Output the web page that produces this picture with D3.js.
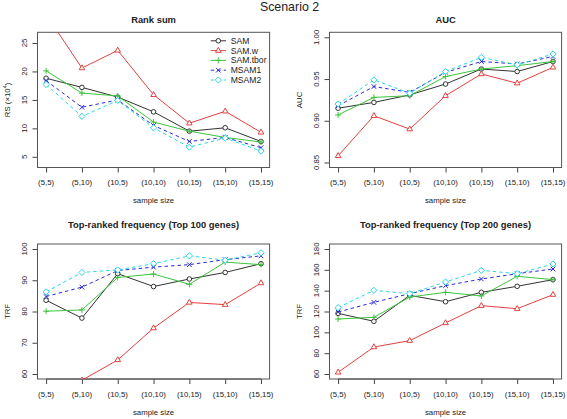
<!DOCTYPE html>
<html><head><meta charset="utf-8">
<script src="https://cdn.jsdelivr.net/npm/d3@7"></script>
<style>body{margin:0;background:#fff}svg{display:block}text{font-family:"Liberation Sans",Arial,sans-serif;fill:#222}</style>
</head><body>
<script>
const categories = ["(5,5)","(5,10)","(10,5)","(10,10)","(10,15)","(15,10)","(15,15)"];
const seriesNames = ["SAM","SAM.w","SAM.tbor","MSAM1","MSAM2"];

const rsSAM   = [18.8, 17.2, 15.5, 12.9, 9.5, 10.1, 7.7];
const rsSAMw  = [30.0, 20.6, 23.7, 15.9, 10.9, 13.0, 9.3];
const rsTbor  = [20.1, 16.2, 15.7, 11.1, 9.5, 8.4, 7.6];
const rsMSAM1 = [18.4, 13.7, 15.0, 10.5, 7.7, 8.4, 6.6];
const rsMSAM2 = [17.7, 12.1, 14.9, 10.1, 6.7, 8.3, 6.0];

const aucSAM   = [0.915, 0.922, 0.931, 0.944, 0.962, 0.959, 0.971];
const aucSAMw  = [0.858, 0.906, 0.890, 0.930, 0.956, 0.945, 0.964];
const aucTbor  = [0.907, 0.928, 0.930, 0.953, 0.962, 0.966, 0.971];
const aucMSAM1 = [0.918, 0.941, 0.934, 0.958, 0.971, 0.968, 0.977];
const aucMSAM2 = [0.920, 0.949, 0.933, 0.959, 0.976, 0.967, 0.980];

const t100SAM   = [83.6, 77.9, 92.1, 88.0, 90.4, 92.5, 95.3];
const t100SAMw  = [50.0, 58.0, 64.5, 74.7, 82.9, 82.2, 89.1];
const t100Tbor  = [80.1, 80.5, 90.9, 92.0, 88.7, 95.8, 95.0];
const t100MSAM1 = [84.8, 87.8, 93.1, 94.2, 95.0, 96.6, 97.8];
const t100MSAM2 = [86.3, 92.5, 93.3, 95.3, 97.8, 96.4, 98.8];

const t200SAM   = [118.2, 110.6, 135.5, 129.4, 138.4, 144.2, 150.6];
const t200SAMw  = [61.6, 85.9, 92.0, 109.0, 125.6, 122.7, 136.2];
const t200Tbor  = [112.8, 114.4, 133.9, 138.4, 134.9, 153.8, 150.6];
const t200MSAM1 = [119.5, 128.8, 137.1, 144.8, 151.2, 156.3, 160.8];
const t200MSAM2 = [123.7, 140.3, 137.1, 148.3, 159.5, 156.3, 165.6];

const rsTicks = [5, 10, 15, 20, 25];
const aucTicks = [0.85, 0.90, 0.95, 1.00];
const t100Ticks = [60, 70, 80, 90, 100];
const t200Ticks = [60, 80, 100, 120, 140, 160, 180];

const colors = ["#333333", "#e3403f", "#3cc43c", "#2a2ad8", "#2ad6e0"];
const dashes = [null, null, null, "3.5,3", "3.5,3"];
const shapes = ["circle", "triangle", "plus", "cross", "diamond"];

const W = 567, H = 419;
const svg = d3.select("body").append("svg").attr("width", W).attr("height", H);

svg.append("text").attr("x", 289.5).attr("y", 10.5).attr("text-anchor", "middle")
  .style("font-size", "12.4px").text("Scenario 2");

function symbolPath(shape) {
  switch (shape) {
    case "circle": return "M2.3,0A2.3,2.3 0 1,1 -2.3,0A2.3,2.3 0 1,1 2.3,0Z";
    case "triangle": return "M0,-3.2L2.8,1.7L-2.8,1.7Z";
    case "plus": return "M-3,0L3,0M0,-3L0,3";
    case "cross": return "M-2.3,-2.3L2.3,2.3M-2.3,2.3L2.3,-2.3";
    case "diamond": return "M0,-3.1L3.1,0L0,3.1L-3.1,0Z";
  }
}

const panels = [
  {title: "Rank sum", box: [37.5, 269.6, 32.3, 167.5], dom: [3.12, 26.88], ticks: rsTicks, fmt: d => d,
   ylab: "RS", data: [rsSAM, rsSAMw, rsTbor, rsMSAM1, rsMSAM2], titleY: 22.5, tickY: 185, xlabY: 203, legend: true},
  {title: "AUC", box: [329.5, 561.6, 32.3, 167.5], dom: [0.844, 1.006], ticks: aucTicks, fmt: d3.format(".2f"),
   ylab: "AUC", data: [aucSAM, aucSAMw, aucTbor, aucMSAM1, aucMSAM2], titleY: 22.5, tickY: 185, xlabY: 203},
  {title: "Top-ranked frequency (Top 100 genes)", box: [37.5, 269.6, 244, 379], dom: [58.4, 101.6], ticks: t100Ticks, fmt: d => d,
   ylab: "TRF", data: [t100SAM, t100SAMw, t100Tbor, t100MSAM1, t100MSAM2], titleY: 227.5, tickY: 396.5, xlabY: 415},
  {title: "Top-ranked frequency (Top 200 genes)", box: [329.5, 561.6, 244, 379], dom: [55.2, 184.8], ticks: t200Ticks, fmt: d => d,
   ylab: "TRF", data: [t200SAM, t200SAMw, t200Tbor, t200MSAM1, t200MSAM2], titleY: 227.5, tickY: 396.5, xlabY: 415}
];

panels.forEach((p, pi) => {
  const [x0, x1, y0, y1] = p.box;
  const x = d3.scaleLinear().domain([0.76, 7.24]).range([x0, x1]);
  const y = d3.scaleLinear().domain(p.dom).range([y1, y0]);
  const g = svg.append("g");
  const cx = (x0 + x1) / 2, cy = (y0 + y1) / 2;

  g.append("text").attr("x", cx).attr("y", p.titleY).attr("text-anchor", "middle")
    .style("font-size", "9.4px").style("font-weight", "bold").text(p.title);

  // x axis
  const xa = g.append("g").attr("transform", `translate(0,${y1})`)
    .call(d3.axisBottom(x).tickValues(d3.range(1, 8)).tickFormat(() => "").tickSize(5).tickSizeOuter(0));
  xa.select(".domain").attr("d", `M${x(1)},0H${x(7)}`).attr("stroke", "#444");
  xa.selectAll(".tick line").attr("stroke", "#444");
  categories.forEach((c, i) => {
    g.append("text").attr("x", x(i + 1)).attr("y", p.tickY).attr("text-anchor", "middle")
      .style("font-size", "7.8px").text(c);
  });
  g.append("text").attr("x", cx).attr("y", p.xlabY).attr("text-anchor", "middle")
    .style("font-size", "7.8px").text("sample size");

  // y axis
  const ya = g.append("g").attr("transform", `translate(${x0},0)`)
    .call(d3.axisLeft(y).tickValues(p.ticks).tickFormat(() => "").tickSize(5).tickSizeOuter(0));
  ya.select(".domain").attr("d", `M0,${y(p.ticks[0])}V${y(p.ticks[p.ticks.length - 1])}`).attr("stroke", "#444");
  ya.selectAll(".tick line").attr("stroke", "#444");
  p.ticks.forEach(t => {
    g.append("text").attr("transform", `translate(${x0 - 10.5},${y(t)}) rotate(-90)`)
      .attr("text-anchor", "middle").style("font-size", "7.8px").text(p.fmt(t));
  });
  const yl = g.append("text").attr("transform", `translate(${x0 - 28},${cy}) rotate(-90)`)
    .attr("text-anchor", "middle").style("font-size", "7.8px").text(p.ylab);
  if (pi === 0) {
    yl.append("tspan").text(" (\u00d710");
    yl.append("tspan").attr("dy", "-3").style("font-size", "5.5px").text("4");
    yl.append("tspan").attr("dy", "3").text(")");
  }

  // box
  g.append("rect").attr("x", x0).attr("y", y0).attr("width", x1 - x0).attr("height", y1 - y0)
    .attr("fill", "none").attr("stroke", "#555").attr("stroke-width", 1);

  // clip
  const cid = "clip" + pi;
  svg.append("clipPath").attr("id", cid).append("rect")
    .attr("x", x0).attr("y", y0).attr("width", x1 - x0).attr("height", y1 - y0);
  const pg = g.append("g").attr("clip-path", `url(#${cid})`);

  const line = d3.line().x((d, i) => x(i + 1)).y(d => y(d));
  p.data.forEach((vals, si) => {
    pg.append("path").attr("d", line(vals)).attr("fill", "none")
      .attr("stroke", colors[si]).attr("stroke-width", 1)
      .attr("stroke-dasharray", dashes[si]);
    vals.forEach((v, i) => {
      pg.append("path").attr("d", symbolPath(shapes[si]))
        .attr("transform", `translate(${x(i + 1)},${y(v)})`)
        .attr("fill", "#fff").attr("fill-opacity", shapes[si] === "plus" || shapes[si] === "cross" ? 0 : 1)
        .attr("stroke", colors[si]).attr("stroke-width", 1);
    });
  });

  if (p.legend) {
    const lg = g.append("g");
    seriesNames.forEach((n, si) => {
      const ly = 40.8 + si * 9.8;
      lg.append("line").attr("x1", 210.7).attr("x2", 226).attr("y1", ly).attr("y2", ly)
        .attr("stroke", colors[si]).attr("stroke-width", 1).attr("stroke-dasharray", dashes[si]);
      lg.append("path").attr("d", symbolPath(shapes[si])).attr("transform", `translate(218.3,${ly})`)
        .attr("fill", "#fff").attr("fill-opacity", shapes[si] === "plus" || shapes[si] === "cross" ? 0 : 1)
        .attr("stroke", colors[si]).attr("stroke-width", 1);
      lg.append("text").attr("x", 230.7).attr("y", ly + 3).style("font-size", "8.6px").text(n);
    });
  }
});
</script>
</body></html>
